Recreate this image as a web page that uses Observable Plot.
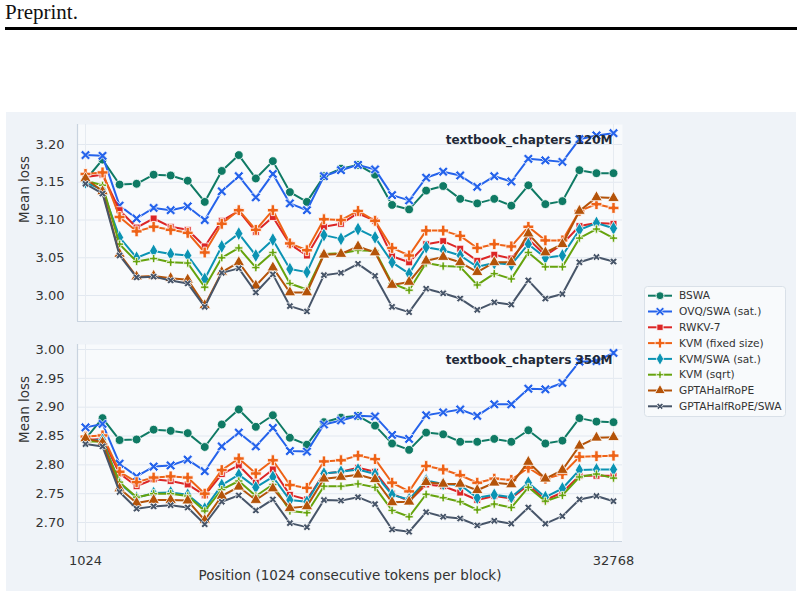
<!DOCTYPE html>
<html><head><meta charset="utf-8">
<script src="https://cdn.jsdelivr.net/npm/d3@7"></script>
<script src="https://cdn.jsdelivr.net/npm/@observablehq/plot@0.6"></script>
<style>
body{margin:0;background:#fff;width:804px;height:591px;position:relative;overflow:hidden;font-family:"DejaVu Sans",sans-serif;}
#hdr{position:absolute;left:5px;top:0px;font-family:"Liberation Serif",serif;font-size:21px;color:#111;line-height:25px;}
#rule{position:absolute;left:5px;top:27px;width:792px;height:3px;background:#000;}
#fig{position:absolute;left:6px;top:112px;width:790px;height:479px;background:#eff3f8;}
.abs{position:absolute;}
</style>
</head><body>
<div id="hdr">Preprint.</div>
<div id="rule"></div>
<div id="fig"></div>
<div id="top" class="abs" style="left:0;top:112px;"></div>
<div id="bot" class="abs" style="left:0;top:330px;"></div>
<div id="leg" class="abs" style="left:644px;top:286px;"></div>
<script>
// ---- data ----
const positions = [1024,2048,3072,4096,5120,6144,7168,8192,9216,10240,11264,12288,13312,14336,15360,16384,17408,18432,19456,20480,21504,22528,23552,24576,25600,26624,27648,28672,29696,30720,31744,32768];
const xTicks = [1024, 32768];
const seriesNames = ["BSWA","OVQ/SWA (sat.)","RWKV-7","KVM (fixed size)","KVM/SWA (sat.)","KVM (sqrt)","GPTAHalfRoPE","GPTAHalfRoPE/SWA"];
const seriesColors = ["#0f7a64","#2563eb","#dc2626","#ee6216","#0b93b3","#65a30d","#b45309","#475569"];

const titleTop = "textbook_chapters 120M";
const titleBot = "textbook_chapters 350M";
const yTicksTop = [3.00,3.05,3.10,3.15,3.20];
const yTicksBot = [2.70,2.75,2.80,2.85,2.90,2.95,3.00];

// 120M
const bswa120 = [3.153,3.180,3.147,3.148,3.160,3.159,3.152,3.124,3.165,3.186,3.155,3.178,3.137,3.124,3.158,3.168,3.173,3.160,3.120,3.114,3.139,3.145,3.128,3.122,3.128,3.119,3.146,3.121,3.125,3.166,3.162,3.162];
const ovq120  = [3.186,3.185,3.119,3.102,3.116,3.113,3.118,3.100,3.138,3.158,3.130,3.161,3.122,3.113,3.158,3.166,3.173,3.167,3.133,3.126,3.156,3.164,3.159,3.144,3.158,3.151,3.181,3.179,3.177,3.207,3.212,3.215];
const rwkv120 = [3.157,3.160,3.113,3.090,3.102,3.091,3.087,3.065,3.099,3.112,3.084,3.104,3.068,3.053,3.091,3.095,3.109,3.099,3.052,3.044,3.068,3.072,3.062,3.046,3.054,3.049,3.075,3.053,3.068,3.092,3.096,3.095];
const kvmf120 = [3.161,3.163,3.104,3.085,3.091,3.087,3.083,3.057,3.095,3.113,3.087,3.113,3.069,3.060,3.101,3.100,3.112,3.099,3.063,3.053,3.086,3.086,3.079,3.063,3.068,3.065,3.091,3.073,3.073,3.112,3.121,3.116];
const kvms120 = [3.150,3.140,3.077,3.050,3.059,3.055,3.053,3.022,3.065,3.082,3.053,3.074,3.035,3.031,3.080,3.075,3.088,3.077,3.044,3.029,3.064,3.060,3.053,3.038,3.043,3.041,3.068,3.050,3.053,3.087,3.096,3.089];
const kvmq120 = [3.152,3.146,3.068,3.045,3.049,3.044,3.043,3.011,3.050,3.063,3.037,3.057,3.016,3.008,3.055,3.056,3.060,3.059,3.016,3.007,3.043,3.039,3.038,3.014,3.029,3.022,3.057,3.038,3.038,3.076,3.088,3.076];
const gpta120 = [3.155,3.138,3.055,3.025,3.026,3.023,3.021,2.987,3.031,3.044,3.013,3.037,3.004,3.004,3.054,3.055,3.065,3.057,3.014,3.018,3.046,3.051,3.044,3.031,3.044,3.044,3.082,3.057,3.068,3.112,3.130,3.129];
const gpts120 = [3.148,3.135,3.053,3.024,3.025,3.020,3.016,2.985,3.030,3.036,3.004,3.028,2.986,2.979,3.027,3.030,3.042,3.026,2.985,2.978,3.009,3.003,2.996,2.981,2.991,2.988,3.020,2.996,3.002,3.044,3.051,3.045];

// 350M
const bswa350 = [2.845,2.881,2.843,2.844,2.861,2.859,2.855,2.831,2.870,2.896,2.866,2.886,2.847,2.835,2.874,2.882,2.885,2.868,2.837,2.826,2.856,2.853,2.840,2.840,2.845,2.840,2.860,2.837,2.842,2.881,2.875,2.874];
const ovq350  = [2.865,2.871,2.802,2.780,2.797,2.799,2.809,2.789,2.832,2.856,2.832,2.864,2.824,2.823,2.870,2.877,2.885,2.884,2.852,2.845,2.886,2.891,2.896,2.885,2.905,2.905,2.932,2.931,2.942,2.979,2.980,2.994];
const rwkv350 = [2.843,2.845,2.785,2.763,2.775,2.772,2.766,2.747,2.784,2.799,2.769,2.792,2.748,2.740,2.785,2.788,2.795,2.788,2.750,2.737,2.766,2.763,2.752,2.739,2.746,2.742,2.765,2.739,2.752,2.781,2.781,2.781];
const kvmf350 = [2.849,2.851,2.788,2.770,2.778,2.780,2.778,2.750,2.791,2.811,2.785,2.808,2.765,2.760,2.806,2.808,2.816,2.810,2.769,2.754,2.798,2.792,2.782,2.769,2.776,2.774,2.795,2.776,2.784,2.814,2.815,2.816];
const kvms350 = [2.842,2.843,2.768,2.743,2.751,2.752,2.748,2.724,2.765,2.783,2.761,2.779,2.739,2.736,2.785,2.788,2.792,2.784,2.748,2.740,2.773,2.767,2.765,2.743,2.748,2.744,2.769,2.744,2.759,2.791,2.792,2.792];
const kvmq350 = [2.841,2.840,2.770,2.744,2.750,2.750,2.746,2.720,2.757,2.772,2.746,2.766,2.720,2.717,2.763,2.763,2.767,2.761,2.721,2.710,2.749,2.743,2.736,2.722,2.732,2.726,2.761,2.737,2.747,2.779,2.784,2.777];
const gpta350 = [2.846,2.839,2.759,2.734,2.739,2.739,2.738,2.704,2.746,2.762,2.739,2.759,2.725,2.728,2.776,2.779,2.783,2.775,2.735,2.736,2.770,2.767,2.767,2.756,2.769,2.766,2.805,2.776,2.791,2.833,2.847,2.848];
const gpts350 = [2.836,2.832,2.753,2.724,2.728,2.730,2.726,2.697,2.736,2.747,2.721,2.740,2.699,2.692,2.739,2.738,2.744,2.732,2.688,2.684,2.718,2.710,2.707,2.695,2.703,2.698,2.726,2.698,2.711,2.740,2.746,2.737];

// ---- marker shapes ----
function crossSymbol(lenK, thickK, rot) {
  return {draw(ctx, size) {
    const r = Math.sqrt(size / Math.PI), L = r * lenK, t = r * thickK;
    let pts = [[-t,-L],[t,-L],[t,-t],[L,-t],[L,t],[t,t],[t,L],[-t,L],[-t,t],[-L,t],[-L,-t],[-t,-t]];
    if (rot) pts = pts.map(([x,y]) => [(x - y) / Math.SQRT2, (x + y) / Math.SQRT2]);
    ctx.moveTo(pts[0][0], pts[0][1]);
    for (let i = 1; i < pts.length; i++) ctx.lineTo(pts[i][0], pts[i][1]);
    ctx.closePath();
  }};
}
const markerStyles = [
  {symbol: d3.symbolCircle, r: 4.4},
  {symbol: crossSymbol(1.25, 0.32, true), r: 4.4},
  {symbol: d3.symbolSquare, r: 3.9},
  {symbol: crossSymbol(1.15, 0.36, false), r: 4.7},
  {symbol: d3.symbolDiamond, r: 4.3},
  {symbol: crossSymbol(1.1, 0.32, false), r: 3.7},
  {symbol: d3.symbolTriangle, r: 4.3},
  {symbol: crossSymbol(1.15, 0.38, true), r: 3.4}
];

const xDomain = [543, 33309];

function panel(vals, title, yDomain, yTicks, showX, height, mt, mb) {
  const marks = [
    Plot.frame({fill: "#f8fafc", stroke: "none"}),
    Plot.ruleY(yTicks, {stroke: "#e2e8f0", strokeWidth: 1}),
    Plot.ruleX(xTicks, {stroke: "#e6ebf1", strokeWidth: 1}),
    Plot.ruleX([xDomain[0]], {stroke: "#c9d3df", strokeWidth: 1.2}),
    Plot.ruleY([yDomain[0]], {stroke: "#c9d3df", strokeWidth: 1.2})
  ];
  seriesNames.forEach((name, s) => {
    const d = vals[s].map((v, i) => ({series: name, x: positions[i], y: v}));
    marks.push(Plot.line(d, {x: "x", y: "y", stroke: "series", strokeWidth: 2}));
    marks.push(Plot.dot(d, {x: "x", y: "y", fill: "series", stroke: "white", strokeWidth: 0.8,
      r: markerStyles[s].r, symbol: markerStyles[s].symbol}));
  });
  marks.push(Plot.text([title], {frameAnchor: "top-right", dx: -10, dy: 11, textAnchor: "end",
    fontWeight: "bold", fontSize: 12, fill: "#1f2937"}));
  marks.push(Plot.text(["Mean loss"], {frameAnchor: "left", dx: -53, rotate: -90, fontSize: 13.5, fill: "#333"}));
  if (showX) marks.push(Plot.text(["Position (1024 consecutive tokens per block)"], {frameAnchor: "bottom", dy: 38, fontSize: 13.5, fill: "#333"}));
  return Plot.plot({
    width: 640, height,
    marginLeft: 77, marginRight: 18, marginTop: mt, marginBottom: mb,
    style: {background: "transparent", fontFamily: "DejaVu Sans", fontSize: "13px", color: "#333", overflow: "visible"},
    x: showX ? {domain: xDomain, ticks: xTicks, tickFormat: d => String(d), tickSize: 0, tickPadding: 14, label: null}
             : {domain: xDomain, axis: null},
    y: {domain: yDomain, ticks: yTicks, tickFormat: ".2f", tickSize: 0, tickPadding: 13, label: null},
    color: {domain: seriesNames, range: seriesColors},
    marks
  });
}

document.getElementById("top").append(panel(
  [bswa120, ovq120, rwkv120, kvmf120, kvms120, kvmq120, gpta120, gpts120],
  titleTop, [2.9656, 3.2265], yTicksTop, false, 215, 12, 6));
document.getElementById("bot").append(panel(
  [bswa350, ovq350, rwkv350, kvmf350, kvms350, kvmq350, gpta350, gpts350],
  titleBot, [2.6671, 3.0087], yTicksBot, true, 261, 14, 50));

// ---- legend ----
const lw = 142, lh = 131;
const svg = d3.select("#leg").append("svg").attr("width", lw).attr("height", lh)
  .style("font-family", "DejaVu Sans").style("font-size", "10.6px");
svg.append("rect").attr("x", 0.5).attr("y", 0.5).attr("width", lw - 1).attr("height", lh - 1)
  .attr("rx", 3).attr("fill", "#f8fafc").attr("stroke", "#d9e0e8");
seriesNames.forEach((name, s) => {
  const y = 9.7 + s * 15.8;
  const g = svg.append("g");
  g.append("line").attr("x1", 4).attr("x2", 28).attr("y1", y).attr("y2", y)
    .attr("stroke", seriesColors[s]).attr("stroke-width", 2);
  const r = markerStyles[s].r * 0.9;
  g.append("path").attr("transform", `translate(16,${y})`)
    .attr("d", d3.symbol(markerStyles[s].symbol, Math.PI * r * r)())
    .attr("fill", seriesColors[s]).attr("stroke", "white").attr("stroke-width", 0.8);
  g.append("text").attr("x", 35).attr("y", y).attr("dy", "0.35em").attr("fill", "#333").text(name);
});
</script>
</body></html>
